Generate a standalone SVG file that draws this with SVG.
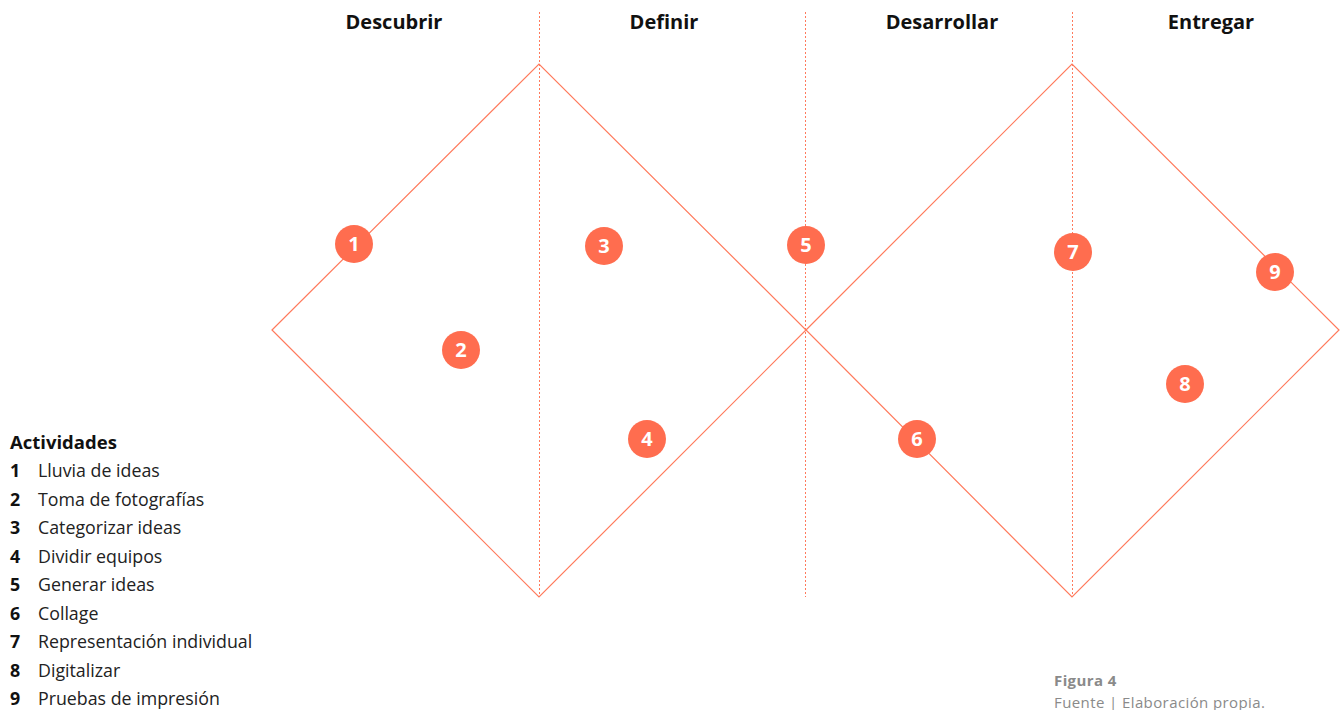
<svg xmlns="http://www.w3.org/2000/svg" width="1341" height="710" viewBox="0 0 1341 710">
  <style>
    .hdr { font-family: "Open Sans", "Noto Sans", sans-serif; font-weight: 700; font-size: 20px; fill: #111; text-anchor: middle; }
    .edge { fill: none; stroke: #ff7a5c; stroke-width: 1.2; }
    .div { fill: none; stroke: #ff7a5c; stroke-width: 1; stroke-dasharray: 2 2; }
    .dot { fill: #ff6d4f; }
    .num { font-family: "Open Sans", "Noto Sans", sans-serif; font-weight: 700; font-size: 20px; fill: #fff; text-anchor: middle; }
    .lg { font-family: "Open Sans", "Noto Sans", sans-serif; font-size: 17.8px; fill: #222; }
    .lgb { font-family: "Open Sans", "Noto Sans", sans-serif; font-size: 17.8px; font-weight: 700; fill: #111; }
    .ttl { font-size: 18.5px; }
    .cap { font-family: "Open Sans", "Noto Sans", sans-serif; font-size: 15px; letter-spacing: 0.4px; fill: #8a8a8a; }
  </style>

  <!-- phase titles -->
  <g id="headers">
    <text class="hdr" x="394" y="29">Descubrir</text>
    <text class="hdr" x="664" y="29">Definir</text>
    <text class="hdr" x="942" y="29">Desarrollar</text>
    <text class="hdr" x="1211" y="29">Entregar</text>
  </g>

  <!-- double diamond outline and phase dividers -->
  <g id="connectors">
    <line class="div" x1="539.5" y1="12" x2="539.5" y2="597"/>
    <line class="div" x1="805.5" y1="12" x2="805.5" y2="597" stroke="#ff7a5c" style="stroke-width:1"/>
    <line class="div" x1="1072.5" y1="12" x2="1072.5" y2="597"/>
    <polygon class="edge" points="272,330 539,64 806,330 539,597"/>
    <polygon class="edge" points="806,330 1072,64 1339,330 1072,597"/>
  </g>

  <!-- numbered activity markers -->
  <g id="n1"><circle class="dot" cx="354" cy="244" r="19"/><text class="num" x="354" y="251">1</text></g>
  <g id="n2"><circle class="dot" cx="461" cy="350" r="19"/><text class="num" x="461" y="357">2</text></g>
  <g id="n3"><circle class="dot" cx="604" cy="246" r="19"/><text class="num" x="604" y="253">3</text></g>
  <g id="n4"><circle class="dot" cx="647" cy="439" r="19"/><text class="num" x="647" y="446">4</text></g>
  <g id="n5"><circle class="dot" cx="806" cy="245" r="19"/><text class="num" x="806" y="252">5</text></g>
  <g id="n6"><circle class="dot" cx="917" cy="439" r="19"/><text class="num" x="917" y="446">6</text></g>
  <g id="n7"><circle class="dot" cx="1073" cy="252" r="19"/><text class="num" x="1073" y="259">7</text></g>
  <g id="n8"><circle class="dot" cx="1185" cy="384" r="19"/><text class="num" x="1185" y="391">8</text></g>
  <g id="n9"><circle class="dot" cx="1275" cy="272" r="19"/><text class="num" x="1275" y="279">9</text></g>

  <!-- activity legend -->
  <g id="legend">
    <text class="lgb ttl" x="10" y="449">Actividades</text>
    <text class="lgb" x="10" y="477">1</text><text class="lg" x="38" y="477">Lluvia de ideas</text>
    <text class="lgb" x="10" y="505.5">2</text><text class="lg" x="38" y="505.5">Toma de fotografías</text>
    <text class="lgb" x="10" y="534">3</text><text class="lg" x="38" y="534">Categorizar ideas</text>
    <text class="lgb" x="10" y="562.5">4</text><text class="lg" x="38" y="562.5">Dividir equipos</text>
    <text class="lgb" x="10" y="591">5</text><text class="lg" x="38" y="591">Generar ideas</text>
    <text class="lgb" x="10" y="619.5">6</text><text class="lg" x="38" y="619.5">Collage</text>
    <text class="lgb" x="10" y="648">7</text><text class="lg" x="38" y="648">Representación individual</text>
    <text class="lgb" x="10" y="676.5">8</text><text class="lg" x="38" y="676.5">Digitalizar</text>
    <text class="lgb" x="10" y="705">9</text><text class="lg" x="38" y="705">Pruebas de impresión</text>
  </g>

  <!-- figure caption -->
  <g id="caption">
    <text class="cap" x="1054" y="686" font-weight="700">Figura 4</text>
    <text class="cap" x="1054" y="708">Fuente | Elaboración propia.</text>
  </g>
</svg>
